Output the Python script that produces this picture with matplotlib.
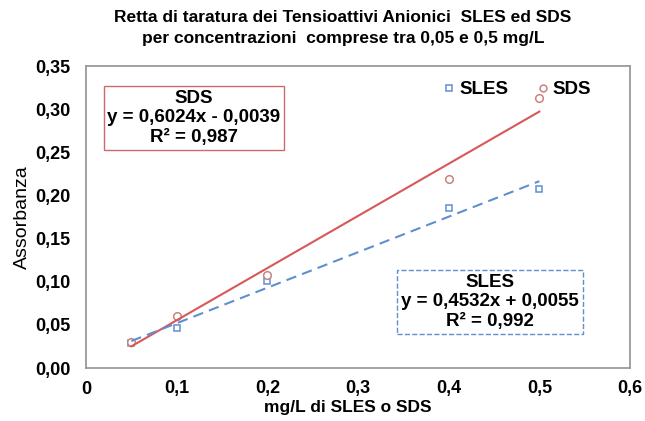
import matplotlib
matplotlib.use("Agg")
import matplotlib.pyplot as plt
import numpy as np

plt.rcParams['font.family'] = ['Liberation Sans', 'DejaVu Sans']
plt.rcParams['font.weight'] = 'bold'

# calibration points
conc = [0.05, 0.1, 0.2, 0.4, 0.5]
sles_abs = [0.029, 0.046, 0.101, 0.185, 0.207]
sds_abs = [0.030, 0.060, 0.108, 0.219, 0.313]

# equations printed on the chart
sles_eq = 'SLES\ny = 0,4532x + 0,0055\nR² = 0,992'
sds_eq = 'SDS\ny = 0,6024x - 0,0039\nR² = 0,987'

xticks = [0, 0.1, 0.2, 0.3, 0.4, 0.5, 0.6]
yticks = [0, 0.05, 0.10, 0.15, 0.20, 0.25, 0.30, 0.35]

sles_col = '#5f8fcf'
sds_col = '#c98383'
sds_line = '#d85858'

fig = plt.figure(figsize=(6.45, 4.21), dpi=100)
ax = fig.add_axes([86/645, 1-368/421, (630-86)/645, (368-66)/421])

ax.plot(conc, sles_abs, 's', ms=5, mfc='white', mec=sles_col, mew=1.1, label='SLES')
ax.plot(conc, sds_abs, 'o', ms=5.5, mfc='white', mec=sds_col, mew=1.1, label='SDS')

# linear trendlines over the measured range
xf = np.array([conc[0], conc[-1]])
p_sds = np.polyfit(conc, sds_abs, 1)
p_sles = np.polyfit(conc, sles_abs, 1)
ax.plot(xf, np.polyval(p_sds, xf), '-', color=sds_line, lw=1.5)
ax.plot(xf, np.polyval(p_sles, xf), '--', color=sles_col, lw=1.5, dashes=(5, 3))

ax.set_xlim(0, 0.6)
ax.set_ylim(0, 0.35)
ax.set_xticks(xticks)
ax.set_yticks(yticks)
ax.set_xticklabels([('%.1f' % v).replace('.', ',') if v else '0' for v in xticks])
ax.set_yticklabels([('%.2f' % v).replace('.', ',') for v in yticks])
ax.tick_params(length=0, labelsize=13)
ax.tick_params(axis='y', pad=11)
ax.tick_params(axis='x', pad=9)
for s in ax.spines.values():
    s.set_color('#9a9a9a')
    s.set_linewidth(1.3)

ax.set_xlabel('mg/L di SLES o SDS', fontsize=12.5, fontweight='bold')
ax.xaxis.set_label_coords((348-86)/544, -0.105)
ax.set_ylabel('Assorbanza', fontsize=14, fontweight='normal', labelpad=3)

ax.legend(loc='upper right', bbox_to_anchor=(0.96, 1.005), ncol=2, frameon=False,
          fontsize=13.5, handletextpad=0.05, columnspacing=1.3, markerscale=0.9,
          handlelength=1.0)

fig.text(343/645, 1-18/421, 'Retta di taratura dei Tensioattivi Anionici  SLES ed SDS',
         ha='center', va='center', fontsize=12.5, fontweight='bold')
fig.text(343/645, 1-39/421, 'per concentrazioni  comprese tra 0,05 e 0,5 mg/L',
         ha='center', va='center', fontsize=12.5, fontweight='bold')

ax.text(194/645, 1-118/421, sds_eq,
        transform=fig.transFigure, ha='center', va='center', fontsize=13.5,
        fontweight='bold', linespacing=1.22,
        bbox=dict(boxstyle='square,pad=0.2', fc='white', ec='#d06a6a', lw=1))
ax.text(490/645, 1-302/421, sles_eq,
        transform=fig.transFigure, ha='center', va='center', fontsize=13.5,
        fontweight='bold', linespacing=1.22,
        bbox=dict(boxstyle='square,pad=0.2', fc='white', ec=sles_col, lw=1, ls='--'))

fig.savefig('out.png', dpi=100)
